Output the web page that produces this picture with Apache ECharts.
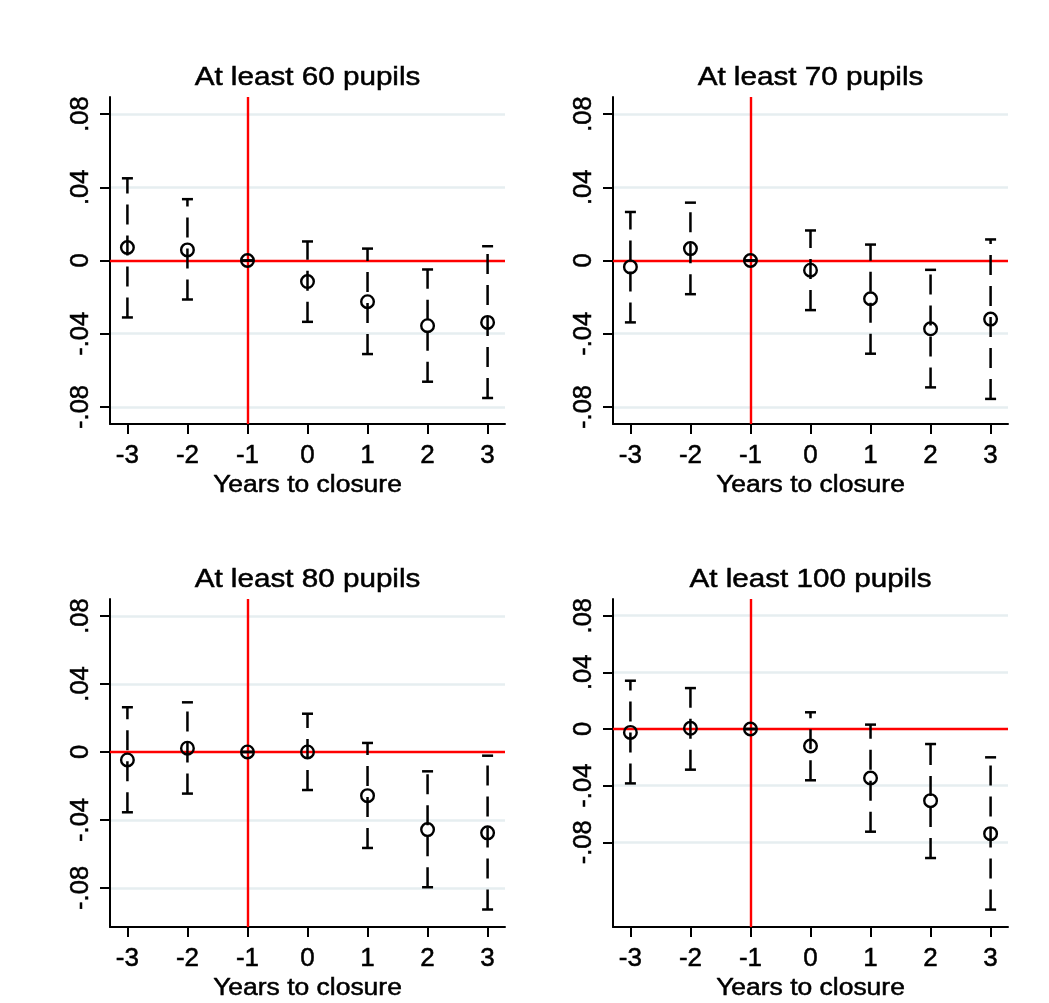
<!DOCTYPE html>
<html>
<head>
<meta charset="utf-8">
<script src="https://cdn.jsdelivr.net/npm/echarts@6/dist/echarts.min.js"></script>
<style>
html,body{margin:0;padding:0;background:#fff;}
#chart{width:1049px;height:1003px;}
</style>
</head>
<body>
<div id="chart"></div>
<script>
// ---- data ----
const years = [-3, -2, -1, 0, 1, 2, 3];
const xTickValues = [-3, -2, -1, 0, 1, 2, 3];
const yTickValues = [-0.08, -0.04, 0, 0.04, 0.08];
const yTickLabels = ['-.08', '-.04', '0', '.04', '.08'];
const gridValues = [-0.08, -0.04, 0.04, 0.08];
const panelTitles = ['At least 60 pupils', 'At least 70 pupils', 'At least 80 pupils', 'At least 100 pupils'];
const xAxisTitle = 'Years to closure';

const est60 = [0.0071, 0.0058, 0, -0.0115, -0.0225, -0.0356, -0.0338];
const lo60  = [-0.0311, -0.0213, 0, -0.0335, -0.0511, -0.0662, -0.0751];
const hi60  = [0.0449, 0.0335, 0, 0.0104, 0.0065, -0.0049, 0.0078];

const est70 = [-0.0035, 0.0065, 0, -0.0053, -0.0209, -0.0373, -0.0320];
const lo70  = [-0.0338, -0.0184, 0, -0.0271, -0.0509, -0.0693, -0.0756];
const hi70  = [0.0265, 0.0316, 0, 0.0164, 0.0087, -0.0051, 0.0115];

const est80 = [-0.0047, 0.0022, 0, 0.0000, -0.0257, -0.0457, -0.0476];
const lo80  = [-0.0355, -0.0245, 0, -0.0224, -0.0565, -0.0796, -0.0927];
const hi80  = [0.0263, 0.0292, 0, 0.0225, 0.0053, -0.0114, -0.0022];

const est100 = [-0.0024, 0.0005, 0, -0.0120, -0.0346, -0.0506, -0.0739];
const lo100  = [-0.0384, -0.0287, 0, -0.0362, -0.0725, -0.0911, -0.1275];
const hi100  = [0.0341, 0.0289, 0, 0.0118, 0.0031, -0.0106, -0.0200];

const panelData = [
  [est60, lo60, hi60],
  [est70, lo70, hi70],
  [est80, lo80, hi80],
  [est100, lo100, hi100]
];
const yMin = [-0.0893, -0.0893, -0.103, -0.1398];
const yMax = [0.0893, 0.0893, 0.090, 0.0918];
const xMin = -3.29, xMax = 3.29;

// ---- layout ----
const grids = [
  {left: 110, top: 97, width: 395, height: 327},
  {left: 613, top: 97, width: 395, height: 327},
  {left: 110, top: 599, width: 395, height: 328},
  {left: 613, top: 599, width: 395, height: 328}
];
const FONT = '"Liberation Sans", Arial, sans-serif';
const INK = '#000';

function fmtY(v) {
  for (let i = 0; i < yTickValues.length; i++) {
    if (Math.abs(yTickValues[i] - v) < 1e-9) return yTickLabels[i];
  }
  return '';
}

function renderErr(params, api) {
  const x = api.value(0), est = api.value(1), lo = api.value(2), hi = api.value(3);
  const pLo = api.coord([x, lo]);
  const pHi = api.coord([x, hi]);
  const pE = api.coord([x, est]);
  const cap = 5.5;
  const st = {stroke: INK, lineWidth: 2.5};
  return {
    type: 'group',
    children: [
      {type: 'line', shape: {x1: pLo[0], y1: pLo[1], x2: pHi[0], y2: pHi[1]},
       style: {stroke: INK, lineWidth: 2.5, lineDash: [20, 11]}},
      {type: 'line', shape: {x1: pLo[0] - cap, y1: pLo[1], x2: pLo[0] + cap, y2: pLo[1]}, style: st},
      {type: 'line', shape: {x1: pHi[0] - cap, y1: pHi[1], x2: pHi[0] + cap, y2: pHi[1]}, style: st},
      {type: 'circle', shape: {cx: pE[0], cy: pE[1], r: 6.3},
       style: {fill: 'none', stroke: INK, lineWidth: 2.4}}
    ]
  };
}

const xAxes = [], yAxes = [], series = [], graphics = [];
grids.forEach((g, i) => {
  xAxes.push({
    gridIndex: i, type: 'value', min: xMin, max: xMax,
    axisLine: {show: true, onZero: false, lineStyle: {color: INK, width: 2}},
    axisTick: {show: true, length: 10, customValues: xTickValues, lineStyle: {color: INK, width: 2}},
    axisLabel: {show: true, customValues: xTickValues, fontSize: 26, fontFamily: FONT, color: INK, margin: 19,
      textBorderColor: INK, textBorderWidth: 0.5,
      formatter: v => String(v)},
    splitLine: {show: false}
  });
  yAxes.push({
    gridIndex: i, type: 'value', min: yMin[i], max: yMax[i],
    axisLine: {show: true, onZero: false, lineStyle: {color: INK, width: 2}},
    axisTick: {show: true, length: 10, customValues: yTickValues, lineStyle: {color: INK, width: 2}},
    axisLabel: {show: true, customValues: yTickValues, rotate: 90, fontSize: 25.5, fontFamily: FONT, color: INK,
      textBorderColor: INK, textBorderWidth: 0.5,
      margin: 16, formatter: fmtY},
    splitLine: {show: false}
  });
  // grid lines
  series.push({
    type: 'line', xAxisIndex: i, yAxisIndex: i, data: [], silent: true,
    markLine: {silent: true, symbol: ['none', 'none'], label: {show: false}, z: 0,
      lineStyle: {color: '#e6eef0', width: 2.5, type: 'solid'},
      animation: false,
      data: gridValues.map(v => ({yAxis: v}))}
  });
  // red reference lines
  series.push({
    type: 'line', xAxisIndex: i, yAxisIndex: i, data: [], silent: true,
    markLine: {silent: true, symbol: ['none', 'none'], label: {show: false}, z: 1,
      lineStyle: {color: '#ff0000', width: 2.4, type: 'solid'},
      animation: false,
      data: [{yAxis: 0}, {xAxis: -1}]}
  });
  const [est, lo, hi] = panelData[i];
  series.push({
    type: 'custom', xAxisIndex: i, yAxisIndex: i, z: 10,
    renderItem: renderErr,
    encode: {x: 0, y: [1, 2, 3]},
    data: years.map((x, k) => [x, est[k], lo[k], hi[k]]),
    animation: false
  });
  const cx = g.left + g.width / 2;
  graphics.push({
    type: 'text', x: cx, y: g.top - 19, scaleX: 1.14,
    style: {text: panelTitles[i], font: '26px ' + FONT, fill: INK, stroke: INK, lineWidth: 0.5,
      textAlign: 'center', textVerticalAlign: 'middle', verticalAlign: 'middle'}
  });
  graphics.push({
    type: 'text', x: cx, y: g.top + g.height + 62, scaleX: 1.15,
    style: {text: xAxisTitle, font: '23px ' + FONT, fill: INK, stroke: INK, lineWidth: 0.5,
      textAlign: 'center', textVerticalAlign: 'middle', verticalAlign: 'middle'}
  });
});

const chart = echarts.init(document.getElementById('chart'), null, {renderer: 'canvas'});
chart.setOption({
  backgroundColor: '#fff',
  animation: false,
  grid: grids.map(g => Object.assign({containLabel: false}, g)),
  xAxis: xAxes,
  yAxis: yAxes,
  series: series,
  graphic: graphics
});
</script>
</body>
</html>
